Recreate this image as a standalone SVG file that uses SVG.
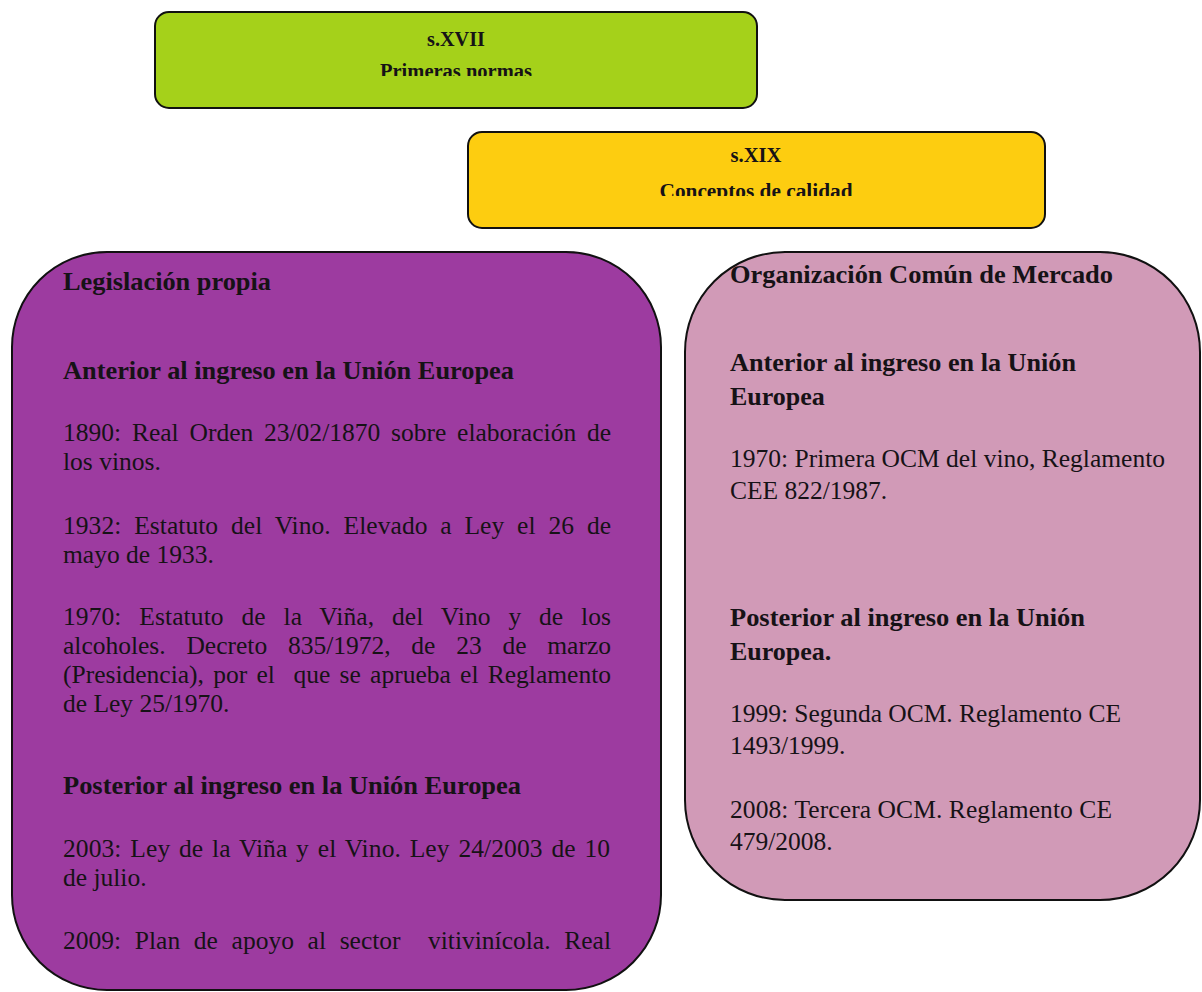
<svg xmlns="http://www.w3.org/2000/svg" width="1202" height="992" viewBox="0 0 1202 992">
<style>
  .box { stroke: #111; stroke-width: 2; }
  .t { font-family: "Liberation Serif", "DejaVu Serif", serif; fill: #161216; }
  .l { font-size: 25.5px; }
  .lb { font-size: 26px; font-weight: bold; }
  .r { font-size: 25.5px; }
  .rb { font-size: 26px; font-weight: bold; }
  .top { font-size: 20px; font-weight: bold; text-anchor: middle; }
  .pre { white-space: pre; }
</style>
<defs>
  <clipPath id="clipGreen"><rect x="155" y="12" width="602" height="64"/></clipPath>
  <clipPath id="clipYellow"><rect x="468" y="132" width="577" height="64"/></clipPath>
</defs>
<rect width="1202" height="992" fill="#ffffff"/>
<g id="connectors"/>

<g id="node-sxvii">
  <rect class="box" x="155" y="12" width="602" height="96" rx="14" fill="#a5d11a"/>
  <g clip-path="url(#clipGreen)">
    <text class="t top" x="456" y="46" textLength="58" lengthAdjust="spacingAndGlyphs">s.XVII</text>
    <text class="t top" x="456" y="78" textLength="152" lengthAdjust="spacingAndGlyphs">Primeras normas</text>
  </g>
</g>

<g id="node-sxix">
  <rect class="box" x="468" y="132" width="577" height="96" rx="14" fill="#fdcd10"/>
  <g clip-path="url(#clipYellow)">
    <text class="t top" x="756" y="162" textLength="51" lengthAdjust="spacingAndGlyphs">s.XIX</text>
    <text class="t top" x="756" y="198" textLength="193" lengthAdjust="spacingAndGlyphs">Conceptos de calidad</text>
  </g>
</g>

<g id="node-legislacion">
  <rect class="box" x="12" y="252" width="649" height="738" rx="95" fill="#9d3ba0"/>
  <text class="t lb" x="63" y="290" textLength="208" lengthAdjust="spacingAndGlyphs">Legislación propia</text>
  <text class="t lb" x="63" y="379" textLength="451" lengthAdjust="spacingAndGlyphs">Anterior al ingreso en la Unión Europea</text>
  <text class="t l" x="63" y="441" word-spacing="4.4" textLength="548" lengthAdjust="spacing">1890: Real Orden 23/02/1870 sobre elaboración de</text>
  <text class="t l" x="63" y="470">los vinos.</text>
  <text class="t l" x="63" y="534" word-spacing="6.4" textLength="548" lengthAdjust="spacing">1932: Estatuto del Vino. Elevado a Ley el 26 de</text>
  <text class="t l" x="63" y="563">mayo de 1933.</text>
  <text class="t l" x="63" y="625" word-spacing="11.3" textLength="548" lengthAdjust="spacing">1970: Estatuto de la Viña, del Vino y de los</text>
  <text class="t l" x="63" y="654" word-spacing="14.4" textLength="548" lengthAdjust="spacing">alcoholes. Decreto 835/1972, de 23 de marzo</text>
  <text class="t l pre" x="63" y="683" word-spacing="2.9" textLength="548" lengthAdjust="spacing">(Presidencia), por el  que se aprueba el Reglamento</text>
  <text class="t l" x="63" y="712">de Ley 25/1970.</text>
  <text class="t lb" x="63" y="794" textLength="458" lengthAdjust="spacingAndGlyphs">Posterior al ingreso en la Unión Europea</text>
  <text class="t l" x="63" y="857" word-spacing="2.3" textLength="547" lengthAdjust="spacing">2003: Ley de la Viña y el Vino. Ley 24/2003 de 10</text>
  <text class="t l" x="63" y="886">de julio.</text>
  <text class="t l pre" x="63" y="949" word-spacing="7.3" textLength="548" lengthAdjust="spacing">2009: Plan de apoyo al sector  vitivinícola. Real</text>
</g>

<g id="node-ocm">
  <rect class="box" x="685" y="252" width="515" height="648" rx="100" fill="#d19ab7"/>
  <text class="t rb" x="730" y="283" textLength="383" lengthAdjust="spacingAndGlyphs">Organización Común de Mercado</text>
  <text class="t rb" x="730" y="371" textLength="346" lengthAdjust="spacingAndGlyphs">Anterior al ingreso en la Unión</text>
  <text class="t rb" x="730" y="405">Europea</text>
  <text class="t r" x="730" y="467" textLength="435" lengthAdjust="spacing">1970: Primera OCM del vino, Reglamento</text>
  <text class="t r" x="730" y="499">CEE 822/1987.</text>
  <text class="t rb" x="730" y="626" textLength="355" lengthAdjust="spacingAndGlyphs">Posterior al ingreso en la Unión</text>
  <text class="t rb" x="730" y="660">Europea.</text>
  <text class="t r" x="730" y="722" textLength="391" lengthAdjust="spacing">1999: Segunda OCM. Reglamento CE</text>
  <text class="t r" x="730" y="754">1493/1999.</text>
  <text class="t r" x="730" y="818" textLength="382" lengthAdjust="spacing">2008: Tercera OCM. Reglamento CE</text>
  <text class="t r" x="730" y="850">479/2008.</text>
</g>
</svg>
